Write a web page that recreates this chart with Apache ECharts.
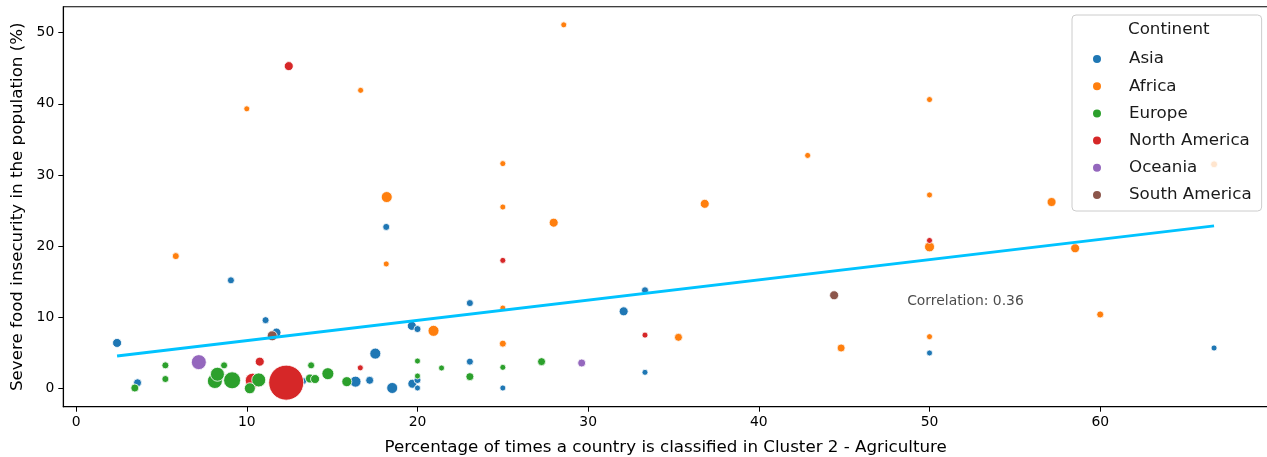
<!DOCTYPE html>
<html>
<head>
<meta charset="utf-8">
<script src="https://cdn.jsdelivr.net/npm/echarts@6/dist/echarts.min.js"></script>
<style>
  html, body { margin: 0; padding: 0; background: #fff; }
  #chart { width: 1267px; height: 457px; }
</style>
</head>
<body>
<div id="chart"></div>
<script>
// Each point: [share of years in Cluster 2 - Agriculture (%), severe food insecurity (%), bubble weight]
const asia = [
  [18.17, 22.7, 7], [9.07, 15.2, 7], [11.1, 9.6, 7], [11.74, 7.85, 9],
  [2.4, 6.4, 9], [19.67, 8.8, 9], [20, 8.35, 7], [17.53, 4.9, 11],
  [3.6, 0.8, 8], [13.3, 1.05, 7], [16.37, 0.96, 11], [17.2, 1.15, 8],
  [18.52, 0.07, 11], [19.7, 0.67, 9], [20, 1.19, 7], [20, 0.07, 6],
  [23.07, 12.0, 7], [23.07, 3.77, 7], [25, 0.07, 6], [33.33, 13.8, 7],
  [32.08, 10.84, 9], [33.33, 2.27, 6], [50, 4.99, 6], [66.67, 5.69, 6]
];
const africa = [
  [10, 39.3, 6], [16.67, 41.9, 6], [18.2, 26.9, 11], [28.57, 51.1, 6],
  [25, 31.6, 6], [50, 40.6, 6], [42.86, 32.75, 6], [50, 27.2, 6],
  [57.15, 26.2, 9], [66.67, 31.5, 7], [36.83, 25.95, 9], [25, 25.5, 6],
  [27.98, 23.3, 9], [5.84, 18.6, 7], [18.17, 17.5, 6], [20.94, 8.1, 11],
  [25, 11.3, 6], [25, 6.3, 7], [35.29, 7.19, 8], [50, 19.9, 10],
  [58.53, 19.7, 9], [60, 10.4, 7], [44.82, 5.69, 8], [50, 7.28, 6]
];
const europe = [
  [5.23, 3.25, 7], [8.67, 3.25, 7], [13.77, 3.25, 7], [20, 3.86, 6],
  [21.41, 2.88, 6], [5.23, 1.33, 7], [3.44, 0.07, 8], [8.13, 1.05, 15],
  [8.28, 2.0, 14], [9.14, 1.15, 17], [10.7, 1.2, 14], [10.18, 0.03, 11],
  [13.7, 1.4, 9], [14.0, 1.33, 9], [14.75, 2.08, 12], [15.86, 0.96, 10],
  [20, 1.75, 6], [23.07, 1.66, 8], [25, 2.97, 6], [27.27, 3.77, 8]
];
// drawn underneath the other continents
const northAmericaBack = [[10.35, 1.1, 15]];
const northAmerica = [
  [12.46, 45.3, 9], [10.76, 3.77, 9], [16.65, 2.9, 6], [12.31, 0.82, 35],
  [25, 18.0, 6], [33.33, 7.5, 6], [50, 20.8, 6]
];
const oceania = [[7.19, 3.7, 15], [29.62, 3.58, 8]];
const southAmerica = [[11.49, 7.4, 10], [44.41, 13.1, 9]];

// fitted trend line end points
const fitLine = [[2.4, 4.57], [66.67, 22.85]];
const correlation = 0.36;
const correlationAt = [48.69, 12.25];

const xTicks = [0, 10, 20, 30, 40, 50, 60];
const yTicks = [0, 10, 20, 30, 40, 50];
const continents = ['Asia', 'Africa', 'Europe', 'North America', 'Oceania', 'South America'];
const palette = {
  'Asia': '#1f77b4', 'Africa': '#ff7f0e', 'Europe': '#2ca02c',
  'North America': '#d62728', 'Oceania': '#9467bd', 'South America': '#8c564b'
};

const FONT = 'DejaVu Sans';

function bubbles(name, data) {
  return {
    type: 'scatter',
    name: name,
    data: data,
    symbol: 'circle',
    symbolSize: d => d[2],
    itemStyle: { color: palette[name], borderColor: '#fff', borderWidth: 0.8, opacity: 1 },
    emphasis: { disabled: true }
  };
}

const chart = echarts.init(document.getElementById('chart'), null, { renderer: 'canvas' });

chart.setOption({
  animation: false,
  grid: {
    left: 63.3, top: 6.7, right: -1, bottom: 50.3,
    outerBoundsMode: 'none',
    containLabel: false,
    show: true, borderColor: '#000', borderWidth: 1.1, backgroundColor: 'transparent'
  },
  xAxis: {
    type: 'value',
    min: -0.75, max: 69.83,
    splitLine: { show: false },
    axisLine: { show: true, onZero: false, lineStyle: { color: '#000', width: 1.1 } },
    axisTick: { show: true, length: 5, customValues: xTicks, lineStyle: { color: '#000', width: 1 } },
    axisLabel: { customValues: xTicks, margin: 9, color: '#000', fontFamily: FONT, fontSize: 13.9 },
    name: 'Percentage of times a country is classified in Cluster 2 - Agriculture',
    nameLocation: 'middle', nameGap: 32,
    nameTextStyle: { color: '#000', fontFamily: FONT, fontSize: 16.7 }
  },
  yAxis: {
    type: 'value',
    min: -2.56, max: 53.65,
    splitLine: { show: false },
    axisLine: { show: true, onZero: false, lineStyle: { color: '#000', width: 1.1 } },
    axisTick: { show: true, length: 5, customValues: yTicks, lineStyle: { color: '#000', width: 1 } },
    axisLabel: { customValues: yTicks, margin: 9, color: '#000', fontFamily: FONT, fontSize: 13.9 },
    name: 'Severe food insecurity in the population (%)',
    nameLocation: 'middle', nameGap: 36, nameRotate: 90,
    nameTextStyle: { color: '#000', fontFamily: FONT, fontSize: 16.7 }
  },
  legend: {
    data: continents,
    left: 1072, top: 15,
    orient: 'vertical',
    icon: 'circle',
    itemWidth: 10, itemHeight: 10, itemGap: 0,
    selectedMode: false,
    padding: [30.4, 10, 2.4, 19],
    backgroundColor: 'rgba(255,255,255,0.8)',
    borderColor: '#cccccc', borderWidth: 1, borderRadius: 4,
    textStyle: { color: '#1a1a1a', fontFamily: FONT, fontSize: 16.7, lineHeight: 27.2, padding: [0, 0, 0, 22] }
  },
  graphic: [{
    type: 'text',
    left: 1128, top: 21.5,
    z: 100,
    style: { text: 'Continent', fill: '#1a1a1a', font: '16.7px "DejaVu Sans"' }
  }],
  series: [
    bubbles('North America', northAmericaBack),
    bubbles('Asia', asia),
    bubbles('Africa', africa),
    bubbles('Europe', europe),
    bubbles('North America', northAmerica),
    bubbles('Oceania', oceania),
    bubbles('South America', southAmerica),
    {
      type: 'line',
      name: 'fit',
      data: fitLine,
      showSymbol: false,
      symbol: 'none',
      z: 5,
      lineStyle: { color: '#00c3ff', width: 3 },
      emphasis: { disabled: true }
    },
    {
      type: 'scatter',
      name: 'corr',
      data: [correlationAt],
      symbolSize: 0,
      z: 6,
      label: {
        show: true, position: 'right', distance: 0,
        formatter: () => 'Correlation: ' + correlation.toFixed(2),
        color: '#1a1a1a', fontFamily: FONT, fontSize: 13.9
      },
      emphasis: { disabled: true }
    }
  ]
});
</script>
</body>
</html>
